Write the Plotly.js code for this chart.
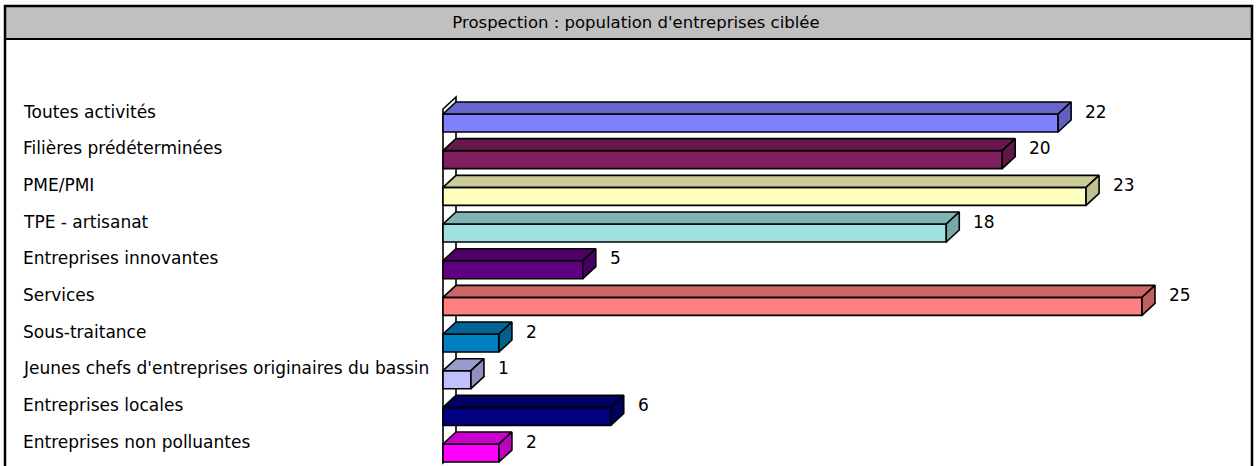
<!DOCTYPE html>
<html>
<head>
<meta charset="utf-8">
<script src="https://cdn.plot.ly/plotly-3.0.1.min.js"></script>
<style>
  html, body { margin: 0; padding: 0; background: #fff; }
  #chart { width: 1256px; height: 466px; }
</style>
</head>
<body>
<div id="chart"></div>
<script>
// ---- data ----
const categories = [
  "Toutes activités",
  "Filières prédéterminées",
  "PME/PMI",
  "TPE - artisanat",
  "Entreprises innovantes",
  "Services",
  "Sous-traitance",
  "Jeunes chefs d'entreprises originaires du bassin",
  "Entreprises locales",
  "Entreprises non polluantes"
];
const values = [22, 20, 23, 18, 5, 25, 2, 1, 6, 2];
const titleText = "Prospection : population d'entreprises ciblée";

// ---- style ----
const colors = ["#8080FF", "#801F60", "#FFFFC0", "#A0E0E0", "#600080",
                "#FF8080", "#0080C0", "#C0C0FF", "#000080", "#FF00FF"];
const FONT = "DejaVu Sans, Liberation Sans, Arial, sans-serif";
const FS = 17;
const FS_TITLE = 16.5;

// geometry (pixels)
const W = 1256, Hh = 466;
const mL = 433, mR = 30, mT = 40, mB = 0;
const zeroPx = 443;            // pixel of value 0
const kx = 27.96;              // px per unit (x)
const ky = 36.67;              // px per row
const row0Px = 123;            // pixel center of first row front face
const plotW = W - mL - mR, plotH = Hh - mT - mB;

const D = 13 / kx;             // depth offset (x units)
const Hd = 12 / ky;            // depth offset (row units)
const BW = 18 / ky;            // bar thickness (row units)

function shade(hex, f) {
  const n = parseInt(hex.slice(1), 16);
  const r = Math.round(((n >> 16) & 255) * f);
  const g = Math.round(((n >> 8) & 255) * f);
  const b = Math.round((n & 255) * f);
  return "rgb(" + r + "," + g + "," + b + ")";
}
const px2paperX = px => (px - mL) / plotW;
const px2paperY = py => (Hh - mB - py) / plotH;

const idx = categories.map((c, i) => i);
const traces = [];

// front faces
traces.push({
  type: "bar", orientation: "h",
  x: values, y: idx, width: BW,
  marker: { color: colors, line: { color: "#000", width: 1.6 } },
  hoverinfo: "skip", showlegend: false
});

// top and side faces
values.forEach((v, i) => {
  const yt = i - BW / 2, yb = i + BW / 2;
  traces.push({
    type: "scatter", mode: "lines", fill: "toself", fillcolor: shade(colors[i], 0.8),
    x: [0, D, v + D, v, 0],
    y: [yt, yt - Hd, yt - Hd, yt, yt],
    line: { color: "#000", width: 1.6 }, hoverinfo: "skip", showlegend: false
  });
  traces.push({
    type: "scatter", mode: "lines", fill: "toself", fillcolor: shade(colors[i], 0.75),
    x: [v, v + D, v + D, v, v],
    y: [yt, yt - Hd, yb - Hd, yb, yt],
    line: { color: "#000", width: 1.6 }, hoverinfo: "skip", showlegend: false
  });
});

const annotations = [];
categories.forEach((c, i) => {
  annotations.push({
    text: c, xref: "paper", yref: "y",
    x: px2paperX(21), y: i - 0.31,
    xanchor: "left", yanchor: "middle", showarrow: false,
    font: { family: FONT, size: FS, color: "#000" }
  });
  annotations.push({
    text: String(values[i]), xref: "x", yref: "y",
    x: values[i] + D + 12 / kx, y: i - 0.31,
    xanchor: "left", yanchor: "middle", showarrow: false,
    font: { family: FONT, size: FS, color: "#000" }
  });
});

const yTop = -(row0Px - mT) / ky;
const yBottom = yTop + plotH / ky;

// wall (behind the bars)
const wallTop = -BW / 2 - Hd - 5 / ky;
const wallBot = (categories.length - 1) + BW / 2 + 1 / ky;
const wallPath = "M 0," + wallBot + " L 0," + (wallTop + Hd) + " L " + D + "," + wallTop +
                 " L " + D + "," + (wallBot - Hd) + " Z";

const layout = {
  width: W, height: Hh,
  margin: { l: mL, r: mR, t: mT, b: mB, pad: 0 },
  paper_bgcolor: "#FFFFFF", plot_bgcolor: "#FFFFFF",
  showlegend: false,
  title: {
    text: titleText,
    x: 636 / W, xref: "container", xanchor: "center",
    y: 1 - 22.5 / Hh, yref: "container", yanchor: "middle",
    font: { family: FONT, size: FS_TITLE, color: "#000" }
  },
  xaxis: { visible: false, range: [(mL - zeroPx) / kx, (W - mR - zeroPx) / kx], fixedrange: true },
  yaxis: { visible: false, range: [yBottom, yTop], fixedrange: true },
  annotations: annotations,
  shapes: [
    { type: "path", xref: "x", yref: "y", layer: "below", path: wallPath,
      fillcolor: "#FFFFFF", line: { color: "#000", width: 1.6 } },
    { type: "rect", xref: "paper", yref: "paper", layer: "below",
      x0: px2paperX(5), x1: px2paperX(1252), y0: px2paperY(39), y1: px2paperY(6),
      fillcolor: "#C0C0C0", line: { color: "#000", width: 2 } },
    { type: "rect", xref: "paper", yref: "paper", layer: "above",
      x0: px2paperX(5), x1: px2paperX(1252), y0: px2paperY(472), y1: px2paperY(6),
      line: { color: "#000", width: 2.5 } }
  ]
};

Plotly.newPlot("chart", traces, layout, { staticPlot: true, displayModeBar: false });
</script>
</body>
</html>
